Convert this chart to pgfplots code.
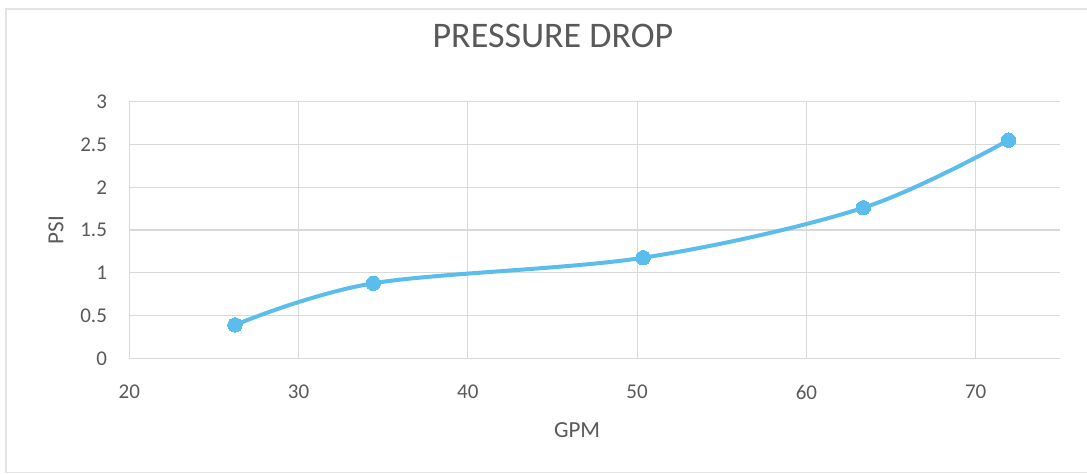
\documentclass[border=0pt]{standalone}
\usepackage{pgfplots}
\pgfplotsset{compat=1.18}
\usepackage{fontspec}
\setmainfont{Carlito}
\definecolor{txt}{HTML}{595959}
\definecolor{gridc}{HTML}{D9D9D9}
\definecolor{lineblue}{RGB}{91,189,235}
\definecolor{framec}{HTML}{E4E4E4}
\begin{document}
\begin{tikzpicture}
\useasboundingbox (0,0) rectangle (543.5bp,237bp);
\draw[framec, line width=0.6bp] (3bp,0.5bp) -- (3bp,232.5bp) -- (543.5bp,232.5bp);
\draw[framec, line width=0.6bp] (3bp,0.6bp) -- (543.5bp,0.6bp);
\begin{axis}[
  at={(64.65bp,57.85bp)}, anchor=south west,
  scale only axis,
  width=465.5bp, height=128.3bp,
  xmin=20, xmax=75, ymin=0, ymax=3,
  xtick={20,30,40,50,60,70},
  ytick={0,0.5,1,1.5,2,2.5,3},
  grid=major,
  major grid style={gridc, line width=0.6bp},
  axis line style={draw=none},
  tick style={draw=none},
  /pgf/number format/assume math mode=true,
  ticklabel style={font=\fontsize{10.5bp}{12bp}\selectfont, text=txt, inner sep=0pt},
  xticklabel style={anchor=center, yshift=-16.85bp},
  yticklabel style={anchor=east, xshift=-11bp},
  title={PRESSURE DROP},
  title style={at={(axis description cs:0.455,1.211)}, anchor=center, inner sep=0pt, font=\fontsize{18bp}{20bp}\selectfont, text=txt},
  xlabel={GPM},
  xlabel style={at={(axis description cs:0.481,-0.281)}, anchor=center, inner sep=0pt, font=\fontsize{11.5bp}{13bp}\selectfont, text=txt},
  ylabel={PSI},
  ylabel style={at={(axis description cs:-0.0787,0.5)}, anchor=center, inner sep=0pt, rotate=0, font=\fontsize{11.5bp}{13bp}\selectfont, text=txt},
  clip=false,
]
\addplot[lineblue, line width=2bp, smooth, tension=0.55, mark=*, mark size=3.6bp, mark options={fill=lineblue, draw=lineblue, line width=0pt}]
  coordinates {(26.24,0.39) (34.41,0.877) (50.36,1.176) (63.36,1.76) (71.94,2.55)};
\end{axis}
\end{tikzpicture}
\end{document}
